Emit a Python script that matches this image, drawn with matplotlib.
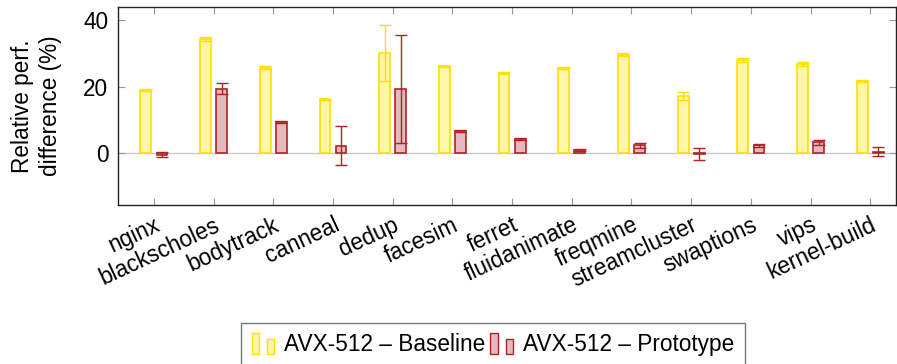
import matplotlib
matplotlib.use("Agg")
import matplotlib.pyplot as plt
import numpy as np
from matplotlib.patches import Rectangle
from matplotlib.legend_handler import HandlerBase

plt.rcParams['font.family'] = ['Liberation Sans', 'DejaVu Sans']

categories = ["nginx", "blackscholes", "bodytrack", "canneal", "dedup", "facesim",
              "ferret", "fluidanimate", "freqmine", "streamcluster", "swaptions",
              "vips", "kernel-build"]
baseline = [18.9, 34.4, 25.7, 16.2, 30.2, 26.1, 24.2, 25.6, 29.6, 17.1, 28.0, 26.9, 21.8]
baseline_err = [0.3, 0.6, 0.4, 0.2, 8.4, 0.2, 0.3, 0.3, 0.5, 1.2, 0.6, 0.6, 0.3]
prototype = [-0.5, 19.4, 9.4, 2.2, 19.2, 6.6, 4.3, 0.8, 2.3, -0.3, 2.3, 3.2, 0.4]
prototype_err = [0.7, 1.6, 0.3, 5.9, 16.2, 0.2, 0.3, 0.3, 0.8, 1.7, 0.5, 0.8, 1.4]
series_labels = ["AVX-512 – Baseline", "AVX-512 – Prototype"]

y_edge, y_fill = '#FFE000', '#FFF6A8'
r_edge, r_fill = '#B22222', '#E2B9BC'
FS = 16.3

fig = plt.figure(figsize=(8.97, 3.64), dpi=100)
ax = fig.add_axes([118/897, 1-205/364, (896-118)/897, (205-7)/364])

x = np.arange(len(categories))
w = 0.18
off = 0.135
ax.axhline(0, color='#c8c8c8', lw=1.0, zorder=0)
ax.bar(x - off, baseline, w, color=y_fill, edgecolor=y_edge, linewidth=1.2, zorder=2)
ax.errorbar(x - off, baseline, yerr=baseline_err, fmt='none', ecolor=y_edge,
            elinewidth=1.0, capsize=4.5, capthick=1.0, zorder=3)
ax.bar(x + off, prototype, w, color=r_fill, edgecolor=r_edge, linewidth=1.2, zorder=2)
ax.errorbar(x + off, prototype, yerr=prototype_err, fmt='none', ecolor=r_edge,
            elinewidth=1.0, capsize=4.5, capthick=1.0, zorder=3)

ax.set_xlim(-0.6, 12.43)
ax.set_ylim(-15.6, 43.9)
ax.set_yticks([0, 20, 40])
ax.set_xticks(x)
ax.set_xticklabels(categories, rotation=25, ha='right', rotation_mode='anchor', fontsize=FS)
ax.tick_params(axis='x', direction='in', length=5, color='#999999', top=True, bottom=True, pad=6)
ax.tick_params(axis='y', direction='in', length=5, color='#999999', left=True, right=True,
               labelsize=FS, pad=7)
for s in ax.spines.values():
    s.set_color('#222222')
    s.set_linewidth(1.0)
ax.set_ylabel("Relative perf.\ndifference (%)", fontsize=FS, linespacing=1.3, labelpad=15)


class BarHandler(HandlerBase):
    def __init__(self, fc, ec):
        super().__init__()
        self.fc, self.ec = fc, ec

    def create_artists(self, legend, orig_handle, xdescent, ydescent, width, height, fontsize, trans):
        h = height * 1.3
        y0 = -ydescent - height * 0.15
        r1 = Rectangle((-xdescent, y0), width * 0.28, h, facecolor=self.fc,
                       edgecolor=self.ec, lw=1.0, transform=trans)
        r2 = Rectangle((-xdescent + width * 0.58, y0), width * 0.26, h * 0.72,
                       facecolor=self.fc, edgecolor=self.ec, lw=1.0, transform=trans)
        return [r1, r2]


h1 = Rectangle((0, 0), 1, 1)
h2 = Rectangle((0, 0), 1, 1)
leg = fig.legend([h1, h2], series_labels, ncol=2, loc='upper center',
                 bbox_to_anchor=(493/897, 1-323/364), fontsize=FS,
                 handler_map={h1: BarHandler(y_fill, y_edge), h2: BarHandler(r_fill, r_edge)},
                 frameon=True, fancybox=False, edgecolor='#555555', handlelength=1.2,
                 handletextpad=0.25, columnspacing=0.2, borderpad=0.45, borderaxespad=0)
leg.get_frame().set_linewidth(1.0)

fig.savefig("out.png", dpi=100)
